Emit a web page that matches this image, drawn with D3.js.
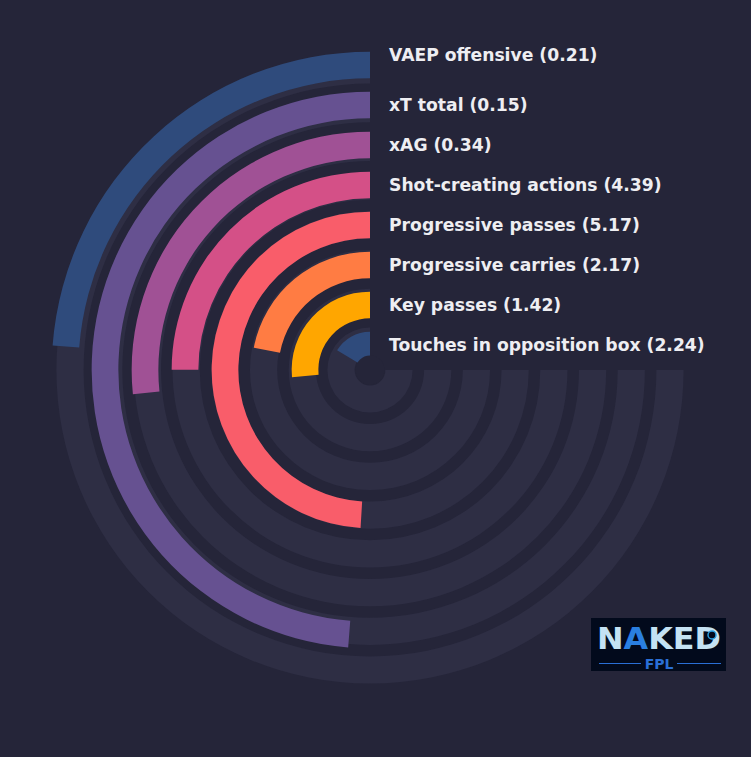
<!DOCTYPE html>
<html>
<head>
<meta charset="utf-8">
<script src="https://cdn.jsdelivr.net/npm/d3@7/dist/d3.min.js"></script>
<style>
  html, body { margin: 0; padding: 0; background: #252539; }
  svg { display: block; }
</style>
</head>
<body>
<svg id="chart" width="751" height="757"></svg>
<script>
// ---- data (outer ring first) ----
const categories = [
  "VAEP offensive",
  "xT total",
  "xAG",
  "Shot-creating actions",
  "Progressive passes",
  "Progressive carries",
  "Key passes",
  "Touches in opposition box"
];
const valueLabels = ["0.21", "0.15", "0.34", "4.39", "5.17", "2.17", "1.42", "2.24"];
const percentiles = [31.7, 65.0, 35.5, 33.3, 65.4, 29.3, 35.3, 21.9];
const palette = ["#2f4b7c", "#665191", "#a05195", "#d45087", "#f95d6a", "#ff7c43", "#ffa600"];

// ---- layout ----
const W = 751, H = 757;
const cx = 370, cy = 370;
const BG = "#252539";
const TRACK = "#2e2e44";

const svg = d3.select("#chart");
svg.append("rect").attr("width", W).attr("height", H).attr("fill", BG);

const g = svg.append("g").attr("transform", `translate(${cx},${cy})`);

// ring scales (inner ring = last category)
const innerToOuter = categories.slice().reverse();
const barRing = d3.scalePoint().domain(innerToOuter).range([25, 305]);
const trackRing = d3.scalePoint().domain(innerToOuter).range([29, 300]);
const barHalf = 13.35, trackHalf = 13.6;

// angle: 0..100 percentile -> 0..-270deg (counter-clockwise from 12 o'clock)
const angle = d3.scaleLinear().domain([0, 100]).range([0, -1.5 * Math.PI]);
const color = d3.scaleOrdinal().domain(d3.range(palette.length)).range(palette);

const arc = d3.arc();

// tracks
g.selectAll("path.track")
  .data(categories)
  .join("path")
  .attr("class", "track")
  .attr("fill", TRACK)
  .attr("d", d => arc({
    innerRadius: trackRing(d) - trackHalf,
    outerRadius: trackRing(d) + trackHalf,
    startAngle: angle(0),
    endAngle: angle(100)
  }));

// bars
g.selectAll("path.bar")
  .data(categories)
  .join("path")
  .attr("class", "bar")
  .attr("fill", (d, i) => color(i % palette.length))
  .attr("d", (d, i) => arc({
    innerRadius: barRing(d) - barHalf,
    outerRadius: barRing(d) + barHalf,
    startAngle: angle(0),
    endAngle: angle(percentiles[i])
  }));

// center hole
g.append("circle").attr("r", 14.5).attr("fill", BG);

// labels
g.selectAll("text.lbl")
  .data(categories)
  .join("text")
  .attr("class", "lbl")
  .attr("x", 19)
  .attr("y", (d, i) => -barRing(d) + (i === 0 ? -10 : 0))
  .attr("dy", "0.35em")
  .attr("fill", "#eeeef2")
  .style("font-family", "'DejaVu Sans', sans-serif")
  .style("font-weight", "bold")
  .style("font-size", "17.2px")
  .text((d, i) => `${d} (${valueLabels[i]})`);

// ---- logo ----
const logo = svg.append("g").attr("transform", "translate(591,618)");
logo.append("rect").attr("width", 135).attr("height", 53).attr("fill", "#020a1c");
const lt = logo.append("text")
  .attr("x", 6).attr("y", 31)
  .style("font-family", "'DejaVu Sans', sans-serif")
  .style("font-weight", "bold")
  .style("font-size", "30px")
  .attr("textLength", 124)
  .attr("lengthAdjust", "spacingAndGlyphs");
lt.append("tspan").attr("fill", "#c4e2f4").text("N");
lt.append("tspan").attr("fill", "#2a7fe0").text("A");
lt.append("tspan").attr("fill", "#c4e2f4").text("KED");
logo.append("circle").attr("cx", 121).attr("cy", 17).attr("r", 4)
  .attr("fill", "#020a1c").attr("stroke", "#2a9fe0").attr("stroke-width", 1.5);
logo.append("line").attr("x1", 8).attr("x2", 50).attr("y1", 45.5).attr("y2", 45.5)
  .attr("stroke", "#2a6fd6").attr("stroke-width", 1);
logo.append("line").attr("x1", 86).attr("x2", 130).attr("y1", 45.5).attr("y2", 45.5)
  .attr("stroke", "#2a6fd6").attr("stroke-width", 1);
logo.append("text")
  .attr("x", 68).attr("y", 51).attr("text-anchor", "middle")
  .attr("fill", "#2a6fd6")
  .style("font-family", "'DejaVu Sans', sans-serif")
  .style("font-weight", "bold")
  .style("font-size", "14px")
  .text("FPL");
</script>
</body>
</html>
